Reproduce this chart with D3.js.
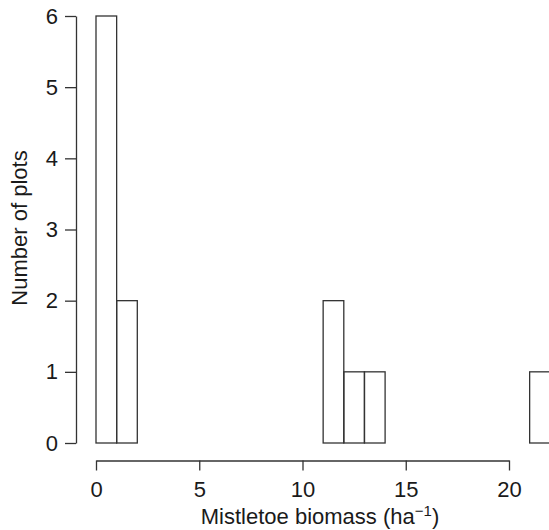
<!DOCTYPE html>
<html>
<head>
<meta charset="utf-8">
<script src="https://cdn.jsdelivr.net/npm/d3@7"></script>
<style>
  body { margin: 0; background: #fff; }
  text { font-family: "Liberation Sans", Arial, sans-serif; fill: #1a1a1a; }
</style>
</head>
<body>
<svg width="549" height="530"></svg>
<script>
var width = 549;
var height = 530;

// histogram bins of width 1, from 0 to 22
var binStarts = d3.range(0, 22);
var counts = [6, 2, 0, 0, 0, 0, 0, 0, 0, 0, 0, 2, 1, 1, 0, 0, 0, 0, 0, 0, 0, 1];
var xTicks = [0, 5, 10, 15, 20];
var yTicks = [0, 1, 2, 3, 4, 5, 6];

var bins = binStarts.map((s, i) => ({x0: s, x1: s + 1, n: counts[i]}));

var xScale = d3.scaleLinear().domain([0, 20]).range([96, 509]);
var yScale = d3.scaleLinear().domain([0, 6]).range([443, 16]);

var svg = d3.select("svg");
var stroke = "#333";

// bars (empty bins draw as baseline)
svg.selectAll("rect.bar")
  .data(bins)
  .enter()
  .append("rect")
    .attr("class", "bar")
    .attr("x", d => xScale(d.x0))
    .attr("y", d => yScale(d.n))
    .attr("width", d => xScale(d.x1) - xScale(d.x0))
    .attr("height", d => yScale(0) - yScale(d.n))
    .attr("fill", "none")
    .attr("stroke", stroke)
    .attr("stroke-width", 1.3);

// x axis, R style: detached below the plot
var xAxis = d3.axisBottom(xScale)
  .tickValues(xTicks)
  .tickFormat(d3.format("d"))
  .tickSize(10)
  .tickSizeOuter(0)
  .tickPadding(11);

var gx = svg.append("g")
  .attr("transform", "translate(0,460.5)")
  .call(xAxis);

// y axis
var yAxis = d3.axisLeft(yScale)
  .tickValues(yTicks)
  .tickFormat(d3.format("d"))
  .tickSize(11)
  .tickSizeOuter(0)
  .tickPadding(7);

var gy = svg.append("g")
  .attr("transform", "translate(76,0)")
  .call(yAxis);

[gx, gy].forEach(g => {
  g.selectAll("path, line").attr("stroke", stroke).attr("stroke-width", 1.3);
  g.selectAll("text")
    .style("font-family", '"Liberation Sans", Arial, sans-serif')
    .style("font-size", "22px")
    .attr("fill", "#1a1a1a");
});

// axis titles
var xTitle = svg.append("text")
  .attr("x", 320)
  .attr("y", 524)
  .attr("text-anchor", "middle")
  .style("font-size", "22px")
  .text("Mistletoe biomass (ha");
xTitle.append("tspan")
  .attr("dy", -8)
  .style("font-size", "15px")
  .text("\u22121");
xTitle.append("tspan")
  .attr("dy", 8)
  .text(")");

svg.append("text")
  .attr("transform", "translate(27,228) rotate(-90)")
  .attr("text-anchor", "middle")
  .style("font-size", "22px")
  .text("Number of plots");
</script>
</body>
</html>
